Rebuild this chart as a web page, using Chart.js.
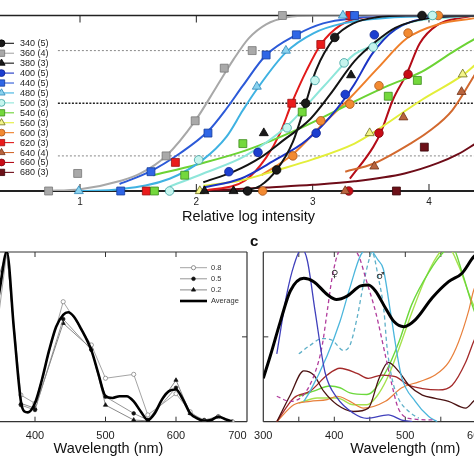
<!DOCTYPE html>
<html>
<head>
<meta charset="utf-8">
<script src="https://cdn.jsdelivr.net/npm/chart.js@4.4.1/dist/chart.umd.min.js"></script>
<style>
  html, body { margin: 0; padding: 0; background: #fff; }
  #wrap { position: relative; width: 474px; height: 474px; overflow: hidden; background: #fff; }
  canvas { position: absolute; }
  #cA { left: 0; top: 0; }
  #cB { left: -30px; top: 230px; }
  #cC { left: 240px; top: 230px; }
  .tag { position: absolute; font-family: 'Liberation Sans', Arial, sans-serif; color: #111; line-height: 1; }
</style>
</head>
<body>
<div id="wrap">
  <canvas id="cA" width="497" height="226"></canvas>
  <canvas id="cB" width="300" height="244"></canvas>
  <canvas id="cC" width="330" height="244"></canvas>
  <div class="tag" style="left:250px;top:233px;font-size:15px;font-weight:bold;">c</div>
  <div class="tag" style="left:331px;top:269px;font-size:10px;font-family:'DejaVu Sans';color:#333;">♀</div>
  <div class="tag" style="left:376px;top:271px;font-size:10px;font-family:'DejaVu Sans';color:#333;">♂</div>
</div>
<script>
const FONT = "'Liberation Sans', Arial, sans-serif";

// ---- panel a: response vs relative log intensity ----
const A_X_TICKS = [1, 2, 3, 4];
const A_LEVELS = [0.2, 0.5, 0.8];
const A_LEVEL_START = 0.81;
const A_LABELS = ['340 (5)', '360 (4)', '380 (3)', '400 (5)', '440 (5)', '480 (5)', '500 (3)',
    '540 (6)', '560 (3)', '600 (3)', '620 (3)', '640 (4)', '660 (5)', '680 (3)'];

// measured points [log intensity, response]
const P340 = [[2.44, 0], [2.69, 0.12], [2.94, 0.50], [3.19, 0.875], [3.94, 1.0]];
const P360 = [[0.73, 0], [0.98, 0.10], [1.74, 0.20], [1.99, 0.40], [2.24, 0.70], [2.48, 0.80], [2.74, 1.0]];
const P380 = [[2.07, 0], [2.32, 0], [2.58, 0.33], [3.33, 0.66]];
const P400 = [[2.28, 0.11], [2.53, 0.22], [3.03, 0.33], [3.28, 0.55], [3.53, 0.89]];
const P440 = [[1.35, 0], [1.61, 0.11], [2.10, 0.33], [2.60, 0.775], [2.86, 0.89], [3.36, 1.0]];
const P480 = [[0.99, 0], [2.52, 0.595], [2.77, 0.80], [3.26, 1.0]];
const P500 = [[1.77, 0], [2.02, 0.177], [2.78, 0.36], [3.02, 0.63], [3.27, 0.73], [3.52, 0.82], [4.03, 1.0]];
const P540 = [[1.64, 0], [1.90, 0.09], [2.40, 0.27], [2.91, 0.45], [3.65, 0.54], [3.90, 0.63]];
const P560 = [[2.03, 0], [3.49, 0.33], [4.29, 0.665]];
const P600 = [[2.57, 0], [2.83, 0.20], [3.07, 0.40], [3.32, 0.495], [3.57, 0.60], [3.82, 0.90], [4.08, 1.0]];
const P620 = [[1.57, 0], [1.82, 0.163], [2.82, 0.50], [3.07, 0.835], [3.32, 1.0]];
const P640 = [[3.28, 0], [3.53, 0.14], [3.78, 0.42], [4.28, 0.565]];
const P660 = [[3.31, 0], [3.57, 0.33], [3.82, 0.665]];
const P680 = [[3.72, 0], [3.96, 0.25]];

// fitted curves
const C340 = [[2.40, 0], [2.55, 0.03], [2.69, 0.12], [2.83, 0.28], [2.94, 0.50], [3.03, 0.69], [3.19, 0.875], [3.35, 0.955], [3.55, 0.99], [3.8, 1.0], [4.4, 1.0]];
const C360 = [[0.7, 0], [1.0, 0.01], [1.36, 0.06], [1.52, 0.10], [1.74, 0.20], [1.99, 0.40], [2.17, 0.59], [2.32, 0.75], [2.45, 0.87], [2.6, 0.95], [2.78, 0.99], [3.0, 1.0], [4.4, 1.0]];
const C380 = [[2.06, 0.05], [2.32, 0.11], [2.55, 0.19], [2.75, 0.29], [2.98, 0.41], [3.15, 0.55], [3.36, 0.74], [3.54, 0.85], [3.71, 0.93], [4.0, 0.985], [4.4, 1.0]];
const C400 = [[2.06, 0.02], [2.38, 0.07], [2.66, 0.17], [2.95, 0.29], [3.21, 0.47], [3.36, 0.61], [3.51, 0.78], [3.71, 0.92], [3.99, 0.985], [4.4, 1.0]];
const C440 = [[1.34, 0.04], [1.60, 0.11], [1.86, 0.215], [2.10, 0.34], [2.26, 0.47], [2.40, 0.60], [2.60, 0.775], [2.86, 0.89], [3.09, 0.955], [3.35, 0.985], [3.7, 1.0], [4.4, 1.0]];
const C480 = [[1.0, 0], [1.34, 0.01], [1.77, 0.07], [2.06, 0.18], [2.26, 0.31], [2.40, 0.46], [2.52, 0.58], [2.77, 0.79], [3.01, 0.90], [3.26, 0.955], [3.6, 0.985], [4.4, 1.0]];
const C500 = [[1.77, 0.025], [2.06, 0.10], [2.42, 0.20], [2.78, 0.37], [3.1, 0.6], [3.36, 0.78], [3.52, 0.83], [3.79, 0.95], [4.2, 0.99], [4.4, 1.0]];
const C540 = [[1.63, 0.09], [2.0, 0.15], [2.42, 0.23], [2.9, 0.36], [3.36, 0.51], [3.65, 0.60], [3.94, 0.68], [4.2, 0.79], [4.4, 0.87]];
const C560 = [[2.06, 0.03], [2.38, 0.06], [2.7, 0.12], [3.0, 0.18], [3.36, 0.27], [3.49, 0.32], [3.94, 0.52], [4.29, 0.66], [4.4, 0.72]];
const C600 = [[2.56, 0.09], [2.83, 0.21], [3.07, 0.37], [3.32, 0.53], [3.56, 0.70], [3.81, 0.87], [4.08, 0.95], [4.4, 0.985]];
const C620 = [[2.06, 0], [2.42, 0.06], [2.60, 0.19], [2.72, 0.33], [2.82, 0.50], [2.95, 0.69], [3.07, 0.835], [3.24, 0.945], [3.44, 0.99], [3.8, 1.0], [4.4, 1.0]];
const C640 = [[3.28, 0.11], [3.52, 0.155], [3.84, 0.27], [4.0, 0.34], [4.2, 0.46], [4.4, 0.67]];
const C660 = [[3.32, 0.07], [3.52, 0.25], [3.59, 0.34], [3.69, 0.52], [3.81, 0.67], [3.92, 0.84], [4.07, 0.945], [4.30, 0.99], [4.4, 1.0]];
const C680 = [[2.06, 0], [2.6, 0.02], [3.0, 0.035], [3.36, 0.055], [3.79, 0.10], [4.08, 0.16], [4.25, 0.21], [4.4, 0.27]];

const A_POINTS = [P340, P360, P380, P400, P440, P480, P500, P540, P560, P600, P620, P640, P660, P680];
const A_CURVES = [C340, C360, C380, C400, C440, C480, C500, C540, C560, C600, C620, C640, C660, C680];

// ---- panel b: threshold spectra ----
const B_WL = [340, 360, 380, 400, 440, 480, 500, 540, 560, 600, 620, 640, 660, 680];
const B_08 = [0.35, 1.0, 0.157, 0.108, 0.707, 0.452, 0.256, 0.279, 0.04, 0.165, 0.059, 0.0, 0.03, 0.0];
const B_05 = [0.55, 1.0, 0.098, 0.069, 0.605, 0.423, 0.147, 0.049, 0.01, 0.20, 0.05, 0.01, 0.03, 0.0];
const B_02 = [0.75, 1.0, 0.108, 0.079, 0.58, 0.43, 0.098, 0.01, 0.005, 0.245, 0.05, 0.0, 0.03, 0.0];
const B_AVG_WL = [340, 350, 360, 370, 380, 385, 390, 400, 410, 420, 430, 440, 447, 455, 465, 480, 490, 500,
    510, 520, 530, 540, 550, 560, 570, 580, 590, 600, 610, 620, 630, 640, 650, 660, 670, 680];
const B_AVG = [0.5, 0.78, 1.0, 0.55, 0.12, 0.06, 0.055, 0.11, 0.25, 0.42, 0.56, 0.63, 0.645, 0.62, 0.55, 0.42, 0.28, 0.15,
    0.14, 0.15, 0.15, 0.12, 0.06, 0.01, 0.05, 0.13, 0.18, 0.19, 0.13, 0.05, 0.02, 0.005, 0.01, 0.03, 0.015, 0.0];
const B_LEGEND = ['0.8', '0.5', '0.2', 'Average'];
const B_X_TICKS = [400, 500, 600, 700];
const B_FRAME_TICKS = [400, 500, 600];

// ---- panel c: photoreceptor spectra ----
const C_X_TICKS = [300, 400, 500, 600, 700];
const C_FRAME_TICKS = [350, 400, 450, 500, 550, 600, 650];
const S_UV = [[319, 0.40], [333, 0.75], [343, 0.92], [354, 1.02], [362, 0.95], [373, 0.65], [387, 0.29], [404, 0.14], [427, 0.05], [446, 0.02], [476, 0.04], [495, 0.01], [510, 0]];
const S_FEMALE = [[319, 0.15], [338, 0.12], [357, 0.16], [373, 0.29], [383, 0.45], [390, 0.65], [397, 0.85], [406, 1.0], [420, 1.04], [434, 0.98], [446, 0.82], [458, 0.65], [472, 0.39], [481, 0.22], [490, 0.08], [505, 0.02], [540, 0.01]];
const S_MALE = [[350, 0.40], [366, 0.45], [383, 0.49], [397, 0.48], [413, 0.42], [422, 0.45], [432, 0.61], [441, 0.81], [448, 0.94], [453, 1.0], [462, 0.85], [470, 0.65], [474, 0.45], [481, 0.26], [490, 0.14], [505, 0.06], [519, 0.02]];
const S_BLUE = [[357, 0.12], [366, 0.18], [390, 0.39], [408, 0.59], [422, 0.79], [437, 0.98], [448, 1.02], [462, 0.95], [469, 0.90], [479, 0.65], [488, 0.41], [495, 0.26], [514, 0.12], [533, 0.03], [545, 0]];
const S_GREEN1 = [[350, 0.15], [371, 0.18], [394, 0.21], [408, 0.20], [422, 0.17], [446, 0.16], [472, 0.29], [491, 0.47], [509, 0.69], [533, 0.88], [554, 1.0], [566, 1.03], [580, 0.88], [594, 0.69], [615, 0.45]];
const S_GREEN2 = [[350, 0.11], [376, 0.14], [404, 0.14], [427, 0.10], [446, 0.10], [460, 0.15], [475, 0.26], [491, 0.43], [509, 0.64], [530, 0.86], [549, 1.0], [560, 1.03], [575, 0.92], [590, 0.75], [615, 0.5]];
const S_ORANGE = [[319, 0], [343, 0.10], [366, 0.12], [390, 0.13], [404, 0.15], [422, 0.12], [441, 0.08], [472, 0.12], [495, 0.20], [519, 0.235], [542, 0.275], [561, 0.35], [575, 0.47], [589, 0.65], [596, 0.77], [615, 0.95]];
const S_RED = [[319, 0], [343, 0.14], [366, 0.18], [390, 0.275], [408, 0.315], [432, 0.285], [448, 0.255], [467, 0.275], [486, 0.265], [505, 0.215], [524, 0.195], [547, 0.187], [566, 0.215], [585, 0.35], [596, 0.47], [615, 0.65]];
const S_MAROON = [[319, 0], [338, 0.157], [357, 0.30], [371, 0.275], [385, 0.18], [404, 0.10], [427, 0.06], [448, 0.08], [463, 0.255], [476, 0.35], [491, 0.295], [505, 0.215], [524, 0.157], [542, 0.138], [561, 0.12], [585, 0.08], [596, 0.12], [615, 0.2]];
const S_AVERAGE = [[300, 0.256], [310, 0.39], [324, 0.59], [338, 0.77], [357, 0.845], [371, 0.825], [390, 0.75], [403, 0.72], [418, 0.74], [437, 0.80], [448, 0.805], [458, 0.77], [472, 0.67], [484, 0.59], [498, 0.56], [514, 0.60], [538, 0.73], [561, 0.825], [580, 0.875], [596, 0.97], [610, 1.02]];

// ---- styles ----
const A_STYLE = [
    { shape: 'circle', fill: '#1a1a1a', edge: '#000000', line: '#141414' },
    { shape: 'rect', fill: '#a9a9a9', edge: '#777777', line: '#a8a8a8' },
    { shape: 'triangle', fill: '#1a1a1a', edge: '#000000', line: '#141414' },
    { shape: 'circle', fill: '#1d3fd0', edge: '#0c2090', line: '#1c34c4' },
    { shape: 'rect', fill: '#2f66e6', edge: '#153c9c', line: '#2c5ad8' },
    { shape: 'triangle', fill: '#8ad2ee', edge: '#2f86b8', line: '#3fb2e2' },
    { shape: 'circle', fill: '#c6f5ee', edge: '#3aa0a0', line: '#8ee6da' },
    { shape: 'rect', fill: '#74d83c', edge: '#3c8c1c', line: '#6cd334' },
    { shape: 'triangle', fill: '#f3f58a', edge: '#6d6d1a', line: '#e3ee3a' },
    { shape: 'circle', fill: '#f28a32', edge: '#a8561a', line: '#ef7f2a' },
    { shape: 'rect', fill: '#ea1c1c', edge: '#9a1010', line: '#e21a1a' },
    { shape: 'triangle', fill: '#b8643e', edge: '#6e3218', line: '#d2692f' },
    { shape: 'circle', fill: '#c80c16', edge: '#7c0610', line: '#b40c18' },
    { shape: 'rect', fill: '#6c1018', edge: '#3a060a', line: '#6e0c18' },
];
const RADIUS = { circle: 4.3, rect: 5.6, triangle: 5.2 };
const A_LEVEL_STYLE = [
    { color: '#888888', width: 1, dash: [2, 2] },
    { color: '#222222', width: 1.3, dash: [2, 1.5] },
    { color: '#888888', width: 1, dash: [2, 2] },
];
const B_STYLE = [
    { line: '#9a9a9a', width: 0.9, shape: 'circle', r: 2.1, fill: '#ffffff', edge: '#777777' },
    { line: '#8a8a8a', width: 0.9, shape: 'circle', r: 1.8, fill: '#111111', edge: '#111111' },
    { line: '#7a7a7a', width: 0.9, shape: 'triangle', r: 2.4, fill: '#111111', edge: '#111111' },
    { line: '#000000', width: 2.6 },
];
const C_SERIES = [S_GREEN2, S_GREEN1, S_ORANGE, S_RED, S_MAROON, S_BLUE, S_MALE, S_FEMALE, S_UV, S_AVERAGE];
const C_STYLE = [
    { color: '#a6e24e', width: 1.4 },
    { color: '#6cd83c', width: 1.4 },
    { color: '#e8803c', width: 1.2 },
    { color: '#a42a2a', width: 1.3 },
    { color: '#4a1212', width: 1.3 },
    { color: '#4cb6dc', width: 1.3 },
    { color: '#5fb0c8', width: 1.3, dash: [4, 3] },
    { color: '#b03c9c', width: 1.3, dash: [4, 3] },
    { color: '#4040bc', width: 1.3 },
    { color: '#000000', width: 3 },
];

function pairs(list) {
    return list.map(function (p) { return { x: p[0], y: p[1] }; });
}

function zip(xs, ys) {
    return xs.map(function (x, i) { return { x: x, y: ys[i] }; });
}

function drawMarker(ctx, shape, x, y, r, fill, edge) {
    ctx.beginPath();
    if (shape === 'circle') {
        ctx.arc(x, y, r, 0, Math.PI * 2);
    } else if (shape === 'rect') {
        const s = r * Math.SQRT1_2;
        ctx.rect(x - s, y - s, 2 * s, 2 * s);
    } else {
        ctx.moveTo(x, y - r);
        ctx.lineTo(x + r * 0.866, y + r * 0.5);
        ctx.lineTo(x - r * 0.866, y + r * 0.5);
        ctx.closePath();
    }
    ctx.fillStyle = fill;
    ctx.fill();
    ctx.strokeStyle = edge;
    ctx.lineWidth = 0.8;
    ctx.stroke();
}

// box lines and inward tick marks
const framePlugin = {
    id: 'frame',
    beforeDatasetsDraw(chart, args, opts) {
        const ctx = chart.ctx;
        const a = chart.chartArea;
        const len = opts.tickLen || 5;
        ctx.save();
        ctx.strokeStyle = opts.color || '#333';
        opts.sides.forEach(function (side) {
            ctx.lineWidth = (opts.widths && opts.widths[side]) || opts.width || 1.2;
            ctx.beginPath();
            if (side === 'top') { ctx.moveTo(a.left, a.top); ctx.lineTo(a.right, a.top); }
            if (side === 'bottom') { ctx.moveTo(a.left, a.bottom); ctx.lineTo(a.right, a.bottom); }
            if (side === 'left') { ctx.moveTo(a.left, a.top); ctx.lineTo(a.left, a.bottom); }
            if (side === 'right') { ctx.moveTo(a.right, a.top); ctx.lineTo(a.right, a.bottom); }
            ctx.stroke();
        });
        ctx.lineWidth = 1;
        ctx.beginPath();
        (opts.xTicks || []).forEach(function (v) {
            const x = chart.scales.x.getPixelForValue(v);
            if (opts.sides.includes('top')) { ctx.moveTo(x, a.top); ctx.lineTo(x, a.top + len); }
            if (opts.sides.includes('bottom')) { ctx.moveTo(x, a.bottom); ctx.lineTo(x, a.bottom - len); }
        });
        (opts.yTicks || []).forEach(function (v) {
            const y = chart.scales.y.getPixelForValue(v);
            if (opts.sides.includes('left')) { ctx.moveTo(a.left, y); ctx.lineTo(a.left + len, y); }
            if (opts.sides.includes('right')) { ctx.moveTo(a.right, y); ctx.lineTo(a.right - len, y); }
        });
        ctx.stroke();
        ctx.restore();
    },
};

const legendA = {
    id: 'legendA',
    afterDraw(chart) {
        const ctx = chart.ctx;
        const a = chart.chartArea;
        ctx.save();
        ctx.font = '9px ' + FONT;
        ctx.textBaseline = 'middle';
        A_LABELS.forEach(function (label, i) {
            const st = A_STYLE[i];
            const y = a.top + 27.8 + i * 9.93;
            const x0 = a.left;
            ctx.strokeStyle = st.line;
            ctx.lineWidth = 1.1;
            ctx.beginPath();
            ctx.moveTo(x0, y);
            ctx.lineTo(x0 + 14, y);
            ctx.stroke();
            drawMarker(ctx, st.shape, x0 + 1.5, y, RADIUS[st.shape] * 0.8, st.fill, st.edge);
            ctx.fillStyle = '#222';
            ctx.fillText(label, x0 + 20, y + 0.5);
        });
        ctx.restore();
    },
};

const legendB = {
    id: 'legendB',
    afterDraw(chart) {
        const ctx = chart.ctx;
        const a = chart.chartArea;
        ctx.save();
        ctx.font = '7.5px ' + FONT;
        ctx.textBaseline = 'middle';
        B_LEGEND.forEach(function (label, i) {
            const st = B_STYLE[i];
            const y = a.top + 15.7 + i * 11.1;
            const x0 = a.right - 67;
            const x1 = a.right - 40;
            ctx.strokeStyle = st.line;
            ctx.lineWidth = st.width;
            ctx.beginPath();
            ctx.moveTo(x0, y);
            ctx.lineTo(x1, y);
            ctx.stroke();
            if (st.shape) {
                drawMarker(ctx, st.shape, (x0 + x1) / 2, y, st.r, st.fill, st.edge);
            }
            ctx.fillStyle = '#333';
            ctx.fillText(label, a.right - 36, y);
        });
        ctx.restore();
    },
};

function baseOptions(xMin, xMax, padding, tickList, title, tickSize, tickPad, axisHeight) {
    return {
        responsive: false,
        animation: false,
        devicePixelRatio: 1,
        layout: { padding: padding, autoPadding: false },
        plugins: {
            legend: { display: false },
            tooltip: { enabled: false },
        },
        scales: {
            x: {
                type: 'linear',
                min: xMin,
                max: xMax,
                grid: { display: false, drawTicks: false, tickLength: 0 },
                border: { display: false },
                afterBuildTicks: function (scale) {
                    scale.ticks = tickList.map(function (v) { return { value: v }; });
                },
                afterFit: function (scale) {
                    scale.height = axisHeight;
                    scale.paddingLeft = 0;
                    scale.paddingRight = 0;
                },
                ticks: {
                    color: '#222',
                    font: { family: FONT, size: tickSize },
                    padding: tickPad,
                    maxRotation: 0,
                    autoSkip: false,
                },
                title: {
                    display: true,
                    text: title,
                    color: '#111',
                    font: { family: FONT, size: 14.5 },
                    padding: 0,
                },
            },
            y: { type: 'linear', min: 0, max: 1, display: false },
        },
    };
}

// ---- chart a ----
(function () {
    const xMin = 1 - 80 / 116.33;
    const xMax = 1 + (497 - 80) / 116.33;
    const datasets = [];
    A_LEVELS.forEach(function (lv, i) {
        const st = A_LEVEL_STYLE[i];
        datasets.push({
            data: [{ x: A_LEVEL_START, y: lv }, { x: xMax, y: lv }],
            borderColor: st.color,
            borderWidth: st.width,
            borderDash: st.dash,
            pointRadius: 0,
            order: 3,
        });
    });
    A_CURVES.forEach(function (curve, i) {
        datasets.push({
            data: pairs(curve),
            borderColor: A_STYLE[i].line,
            borderWidth: 2,
            pointRadius: 0,
            cubicInterpolationMode: 'monotone',
            order: 2,
        });
    });
    A_POINTS.forEach(function (pts, i) {
        const st = A_STYLE[i];
        datasets.push({
            data: pairs(pts),
            showLine: false,
            pointStyle: st.shape,
            pointRadius: RADIUS[st.shape],
            pointBackgroundColor: st.fill,
            pointBorderColor: st.edge,
            pointBorderWidth: 0.8,
            clip: false,
            order: 1,
        });
    });
    const options = baseOptions(xMin, xMax, { top: 15.5, left: 0, right: 0, bottom: 0 },
        A_X_TICKS, 'Relative log intensity', 10, 5, 35);
    options.plugins.frame = {
        sides: ['top', 'bottom'],
        widths: { top: 1.3, bottom: 2 },
        color: '#222',
        xTicks: A_X_TICKS,
        tickLen: 7,
    };
    new Chart(document.getElementById('cA'), {
        type: 'line',
        data: { datasets: datasets },
        options: options,
        plugins: [framePlugin, legendA],
    });
})();

// ---- chart b ----
(function () {
    const xMin = 400 - 65 / 0.705;
    const xMax = 400 + 212 / 0.705;
    const datasets = [];
    [B_08, B_05, B_02].forEach(function (vals, i) {
        const st = B_STYLE[i];
        datasets.push({
            data: zip(B_WL, vals),
            borderColor: st.line,
            borderWidth: st.width,
            pointStyle: st.shape,
            pointRadius: st.r,
            pointBackgroundColor: st.fill,
            pointBorderColor: st.edge,
            pointBorderWidth: 0.7,
            order: 2,
        });
    });
    datasets.push({
        data: zip(B_AVG_WL, B_AVG),
        borderColor: B_STYLE[3].line,
        borderWidth: B_STYLE[3].width,
        pointRadius: 0,
        cubicInterpolationMode: 'monotone',
        order: 1,
    });
    // blank first tick so that 'inner' only pulls the last label (700) inside
    const options = baseOptions(xMin, xMax, { top: 22, left: 0, right: 23, bottom: 16 },
        [xMin].concat(B_X_TICKS), 'Wavelength (nm)', 11, 7.7, 36.3);
    options.scales.x.ticks.align = 'inner';
    options.scales.x.ticks.callback = function (value) {
        return B_X_TICKS.includes(value) ? String(value) : '';
    };
    options.plugins.frame = {
        sides: ['top', 'right', 'bottom'],
        color: '#333',
        width: 1.2,
        xTicks: B_FRAME_TICKS,
        yTicks: [0.5],
        tickLen: 5,
    };
    new Chart(document.getElementById('cB'), {
        type: 'line',
        data: { datasets: datasets },
        options: options,
        plugins: [framePlugin, legendB],
    });
})();

// ---- chart c ----
(function () {
    const datasets = C_SERIES.map(function (series, i) {
        const st = C_STYLE[i];
        return {
            data: pairs(series),
            borderColor: st.color,
            borderWidth: st.width,
            borderDash: st.dash || [],
            pointRadius: 0,
            cubicInterpolationMode: 'monotone',
            order: C_SERIES.length - i,
        };
    });
    const options = baseOptions(300, 700, { top: 22, left: 23.3, right: 22.7, bottom: 16 },
        C_X_TICKS, 'Wavelength (nm)', 11, 7.7, 36.3);
    options.plugins.frame = {
        sides: ['left', 'top', 'bottom'],
        color: '#333',
        width: 1.2,
        xTicks: C_FRAME_TICKS,
        yTicks: [0.5],
        tickLen: 5,
    };
    new Chart(document.getElementById('cC'), {
        type: 'line',
        data: { datasets: datasets },
        options: options,
        plugins: [framePlugin],
    });
})();
</script>
</body>
</html>
